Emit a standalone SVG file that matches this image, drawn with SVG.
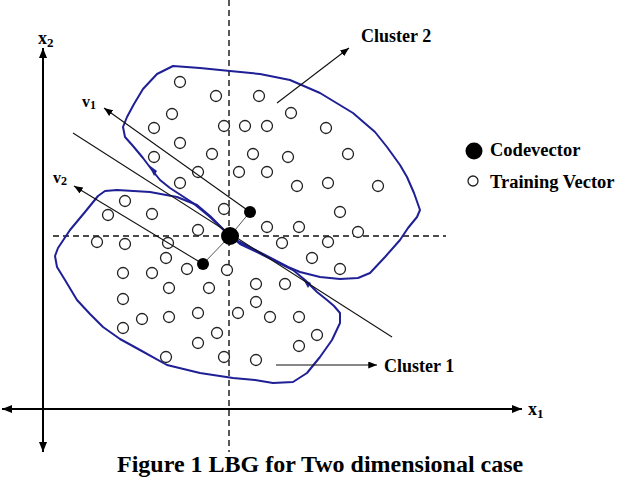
<svg xmlns="http://www.w3.org/2000/svg" width="640" height="478" viewBox="0 0 640 478">
<style>
.tv{fill:#fff;stroke:#222;stroke-width:1.3}
.bd{fill:none;stroke:#1f1f96;stroke-width:2;stroke-linejoin:round}
.blob{fill:#1f1f96}
.dash{stroke:#111;stroke-width:1.4;stroke-dasharray:6,4;fill:none}
.axis{stroke:#000;stroke-width:2;fill:none}
.thin{stroke:#111;stroke-width:1.1;fill:none}
.lbl{font-family:"Liberation Serif","Times New Roman",serif;font-weight:bold;fill:#000}
</style>
<defs>
<marker id="ah" viewBox="0 0 10 8" refX="10" refY="4" markerWidth="10" markerHeight="8" markerUnits="userSpaceOnUse" orient="auto">
<path d="M0,0 L10,4 L0,8 Z" fill="#000"/>
</marker>
<marker id="ahs" viewBox="0 0 10 8" refX="10" refY="4" markerWidth="9" markerHeight="7" markerUnits="userSpaceOnUse" orient="auto">
<path d="M0,0 L10,4 L0,8 Z" fill="#000"/>
</marker>
</defs>
<rect width="640" height="478" fill="#fff"/>

<g id="axes">
<line class="axis" x1="43" y1="452" x2="43" y2="48" marker-end="url(#ah)"/>
<line class="axis" x1="43" y1="420" x2="43" y2="452" marker-end="url(#ah)"/>
<line class="axis" x1="43" y1="409" x2="522" y2="409" marker-end="url(#ah)"/>
<line class="axis" x1="43" y1="409" x2="2" y2="409" marker-end="url(#ah)"/>
<text class="lbl" x="38" y="44" font-size="18">x<tspan font-size="13" dy="3">2</tspan></text>
<text class="lbl" x="528" y="415" font-size="18">x<tspan font-size="13" dy="3">1</tspan></text>
<line class="dash" x1="229" y1="0" x2="229" y2="452"/>
<line class="dash" x1="53" y1="236" x2="446" y2="236"/>
</g>

<g id="cluster2">
<path class="bd" d="M229,235 L210,217 L193,203 L170,188 L160,180 L152,170 L143,158 L133,146 L125,137 L123,127 L127,117 L134,104 L143,89 L157,74 L173,66 L200,68 L230,71 L260,74 L290,80 L320,93 L353,113 L375,132 L387,147 L400,165 L407,177 L414,193 L420,210 L417,217 L408,228 L400,240 L385,257 L370,273 L358,278 L340,279 L320,277 L300,272 L288,267 L265,255 L240,242 Z"/>
<path class="blob" d="M149,165 L157,171 L154,176 Z"/>
<g>
<circle class="tv" cx="180" cy="82" r="5.5"/>
<circle class="tv" cx="216" cy="96" r="5.5"/>
<circle class="tv" cx="259" cy="96" r="5.5"/>
<circle class="tv" cx="172" cy="114" r="5.5"/>
<circle class="tv" cx="291" cy="113" r="5.5"/>
<circle class="tv" cx="154" cy="128" r="5.5"/>
<circle class="tv" cx="224" cy="126" r="5.5"/>
<circle class="tv" cx="245" cy="126" r="5.5"/>
<circle class="tv" cx="267" cy="126" r="5.5"/>
<circle class="tv" cx="326" cy="128" r="5.5"/>
<circle class="tv" cx="180" cy="143" r="5.5"/>
<circle class="tv" cx="154" cy="157" r="5.5"/>
<circle class="tv" cx="212" cy="154" r="5.5"/>
<circle class="tv" cx="253" cy="154" r="5.5"/>
<circle class="tv" cx="288" cy="157" r="5.5"/>
<circle class="tv" cx="348" cy="154" r="5.5"/>
<circle class="tv" cx="198" cy="172" r="5.5"/>
<circle class="tv" cx="239" cy="172" r="5.5"/>
<circle class="tv" cx="267" cy="172" r="5.5"/>
<circle class="tv" cx="180" cy="183" r="5.5"/>
<circle class="tv" cx="297" cy="186" r="5.5"/>
<circle class="tv" cx="328" cy="183" r="5.5"/>
<circle class="tv" cx="378" cy="186" r="5.5"/>
<circle class="tv" cx="224" cy="209" r="5.5"/>
<circle class="tv" cx="340" cy="212" r="5.5"/>
<circle class="tv" cx="267" cy="227" r="5.5"/>
<circle class="tv" cx="299" cy="227" r="5.5"/>
<circle class="tv" cx="358" cy="232" r="5.5"/>
<circle class="tv" cx="328" cy="242" r="5.5"/>
<circle class="tv" cx="282" cy="243" r="5.5"/>
<circle class="tv" cx="312" cy="258" r="5.5"/>
<circle class="tv" cx="340" cy="269" r="5.5"/>
</g>
</g>

<g id="cluster1">
<path class="bd" d="M225,231 L210,216 L197,205 L177,197 L150,192 L117,190 L105,191 L98,196 L85,212 L70,230 L58,248 L55,256 L57,267 L65,280 L77,300 L90,314 L103,327 L120,339 L140,350 L167,365 L200,373 L233,378 L255,380 L273,383 L293,382 L307,373 L320,357 L332,340 L340,323 L340,313 L334,306 L327,300 L317,292 L305,280 L293,270 L267,257 L240,244 Z"/>
<path class="blob" d="M303,279 L311,283 L308,288 Z"/>
<g>
<circle class="tv" cx="125" cy="201" r="5.5"/>
<circle class="tv" cx="108" cy="215" r="5.5"/>
<circle class="tv" cx="152" cy="214" r="5.5"/>
<circle class="tv" cx="198" cy="230" r="5.5"/>
<circle class="tv" cx="97" cy="242" r="5.5"/>
<circle class="tv" cx="125" cy="244" r="5.5"/>
<circle class="tv" cx="168" cy="243" r="5.5"/>
<circle class="tv" cx="166" cy="258" r="5.5"/>
<circle class="tv" cx="187" cy="269" r="5.5"/>
<circle class="tv" cx="227" cy="270" r="5.5"/>
<circle class="tv" cx="123" cy="273" r="5.5"/>
<circle class="tv" cx="152" cy="273" r="5.5"/>
<circle class="tv" cx="169" cy="288" r="5.5"/>
<circle class="tv" cx="209" cy="288" r="5.5"/>
<circle class="tv" cx="256" cy="284" r="5.5"/>
<circle class="tv" cx="285" cy="284" r="5.5"/>
<circle class="tv" cx="123" cy="299" r="5.5"/>
<circle class="tv" cx="256" cy="302" r="5.5"/>
<circle class="tv" cx="142" cy="319" r="5.5"/>
<circle class="tv" cx="169" cy="317" r="5.5"/>
<circle class="tv" cx="198" cy="313" r="5.5"/>
<circle class="tv" cx="238" cy="313" r="5.5"/>
<circle class="tv" cx="270" cy="317" r="5.5"/>
<circle class="tv" cx="299" cy="317" r="5.5"/>
<circle class="tv" cx="123" cy="328" r="5.5"/>
<circle class="tv" cx="217" cy="333" r="5.5"/>
<circle class="tv" cx="198" cy="343" r="5.5"/>
<circle class="tv" cx="299" cy="346" r="5.5"/>
<circle class="tv" cx="317" cy="335" r="5.5"/>
<circle class="tv" cx="166" cy="357" r="5.5"/>
<circle class="tv" cx="224" cy="357" r="5.5"/>
<circle class="tv" cx="256" cy="360" r="5.5"/>
</g>
</g>

<g id="connectors">
<line class="thin" x1="73" y1="133" x2="392" y2="337" stroke="#222"/>
<line class="thin" x1="250" y1="212" x2="104" y2="108" marker-end="url(#ahs)"/>
<line class="thin" x1="203" y1="264" x2="74" y2="186" marker-end="url(#ahs)"/>
<line x1="230" y1="236" x2="250" y2="212" stroke="#555" stroke-width="1"/>
<line x1="230" y1="236" x2="203" y2="264" stroke="#555" stroke-width="1"/>
<line class="thin" x1="277" y1="103" x2="349" y2="48" marker-end="url(#ahs)"/>
<line class="thin" x1="276" y1="365" x2="377" y2="365" marker-end="url(#ahs)"/>
</g>

<g id="codevectors">
<circle cx="230" cy="236" r="9" fill="#000"/>
<circle cx="250" cy="212" r="6" fill="#000"/>
<circle cx="203" cy="264" r="6" fill="#000"/>
</g>

<g id="labels">
<text class="lbl" x="82" y="107" font-size="16">v<tspan font-size="12" dy="2">1</tspan></text>
<text class="lbl" x="53" y="183" font-size="16">v<tspan font-size="12" dy="2">2</tspan></text>
<text class="lbl" x="361" y="42" font-size="18">Cluster 2</text>
<text class="lbl" x="384" y="372" font-size="18">Cluster 1</text>
</g>

<g id="legend">
<circle cx="474" cy="151" r="8.5" fill="#000"/>
<text class="lbl" x="490" y="156" font-size="18.5">Codevector</text>
<circle class="tv" cx="473" cy="181" r="5"/>
<text class="lbl" x="490" y="188" font-size="18.5">Training Vector</text>
</g>

<g id="caption">
<text class="lbl" x="117" y="472" font-size="24">Figure 1 LBG for Two dimensional case</text>
</g>
</svg>
